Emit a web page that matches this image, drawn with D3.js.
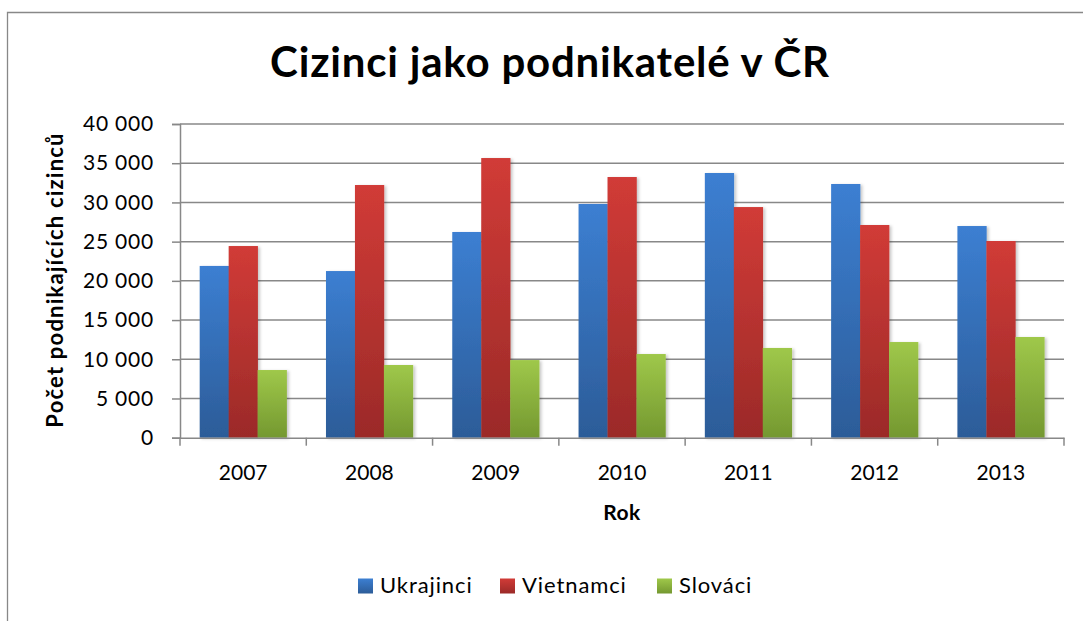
<!DOCTYPE html>
<html><head><meta charset="utf-8">
<script src="https://cdn.jsdelivr.net/npm/d3@7"></script>
<style>body{margin:0;background:#fff}svg{display:block}</style>
</head><body>
<script>
const years = ["2007","2008","2009","2010","2011","2012","2013"];
const seriesNames = ["Ukrajinci","Vietnamci","Slováci"];
const ukrajinci = [21900,21250,26230,29800,33750,32350,26990];
const vietnamci = [24440,32220,35660,33240,29410,27120,25080];
const slovaci   = [8630,9270,9900,10670,11440,12200,12840];
const yTicks = [0,5000,10000,15000,20000,25000,30000,35000,40000];
const values = [ukrajinci, vietnamci, slovaci];
const colors = [["#3c7fd2","#2c5c98"],["#d13b37","#9b2a28"],["#9fc84a","#749830"]];

const W=1083,H=621;
const svg=d3.select("body").append("svg").attr("width",W).attr("height",H);
const defs=svg.append("defs");
colors.forEach((c,i)=>{
  const g=defs.append("linearGradient").attr("id","g"+i).attr("x1",0).attr("y1",0).attr("x2",0).attr("y2",1);
  g.append("stop").attr("offset","0%").attr("stop-color",c[0]);
  g.append("stop").attr("offset","100%").attr("stop-color",c[1]);
});
const f=defs.append("filter").attr("id","sh").attr("x","-20%").attr("y","-5%").attr("width","150%").attr("height","115%");
f.append("feDropShadow").attr("dx",2).attr("dy",1).attr("stdDeviation",1.5).attr("flood-color","#000").attr("flood-opacity",0.22);

// chart frame
svg.append("path").attr("d",`M7.5,${H} V12.5 H${W}`).attr("fill","none").attr("stroke","#888").attr("stroke-width",1.3);

const pLeft=180,pRight=1064,pTop=124,pBottom=437.7;
const x=d3.scaleBand().domain(years).range([pLeft,pRight]).paddingInner(0).paddingOuter(0);
const y=d3.scaleLinear().domain([0,40000]).range([pBottom,pTop]);
const xs=d3.scaleBand().domain(seriesNames).range([0,x.bandwidth()]).paddingInner(0).paddingOuter(0.68);

const font="Lato, 'Open Sans', sans-serif";
// gridlines
svg.append("g").selectAll("line").data(yTicks.slice(1)).join("line")
  .attr("x1",pLeft).attr("x2",pRight).attr("y1",d=>y(d)).attr("y2",d=>y(d))
  .attr("stroke","#888").attr("stroke-width",1.5);

// bars
seriesNames.forEach((s,si)=>{
  svg.append("g").attr("filter","url(#sh)").selectAll("rect").data(years).join("rect")
    .attr("x",d=>x(d)+xs(s)).attr("width",xs.bandwidth()+0.3)
    .attr("y",(d,i)=>y(values[si][i])).attr("height",(d,i)=>pBottom-y(values[si][i]))
    .attr("fill",`url(#g${si})`);
});

const fmt=v=>d3.format(",")(v).replace(/,/g," ");
const ya=d3.axisLeft(y).tickValues(yTicks).tickFormat(fmt).tickSize(8).tickPadding(18);
const gy=svg.append("g").attr("transform",`translate(${pLeft},0)`).call(ya);
const xa=d3.axisBottom(x).tickValues(years).tickSize(0).tickPadding(27);
const gx=svg.append("g").attr("transform",`translate(0,${pBottom})`).call(xa);
[gy,gx].forEach(g=>{
  g.selectAll("path.domain").attr("stroke","#888").attr("stroke-width",1.5);
  g.selectAll("line").attr("stroke","#888").attr("stroke-width",1.5);
  g.selectAll("text").attr("font-family",font).attr("font-size",21).attr("fill","#000");
});
gy.selectAll("text").attr("letter-spacing",0.8);
// x ticks at band boundaries
svg.append("g").selectAll("line").data(years.concat(["end"])).join("line")
  .attr("x1",(d,i)=>pLeft+i*x.step()).attr("x2",(d,i)=>pLeft+i*x.step())
  .attr("y1",pBottom).attr("y2",pBottom+8).attr("stroke","#888").attr("stroke-width",1.5);

svg.append("text").attr("x",550).attr("y",77).attr("text-anchor","middle")
  .attr("font-family",font).attr("font-weight","bold").attr("font-size",42).attr("letter-spacing",0.8).text("Cizinci jako podnikatelé v ČR");
svg.append("text").attr("x",622).attr("y",520).attr("text-anchor","middle")
  .attr("font-family",font).attr("font-weight","bold").attr("font-size",21).attr("letter-spacing",0.5).text("Rok");
svg.append("text").attr("transform","translate(63,280) rotate(-90)").attr("text-anchor","middle")
  .attr("font-family",font).attr("font-weight","bold").attr("font-size",22).attr("letter-spacing",1.2).text("Počet podnikajících cizinců");

// legend
const legX=[358,500,657];
const lg=svg.append("g");
seriesNames.forEach((s,i)=>{
  lg.append("rect").attr("x",legX[i]).attr("y",578.5).attr("width",15).attr("height",15).attr("fill",`url(#g${i})`);
  lg.append("text").attr("x",legX[i]+22).attr("y",593).attr("font-family",font).attr("font-size",22).attr("letter-spacing",0.9).text(s);
});
</script>
</body></html>
